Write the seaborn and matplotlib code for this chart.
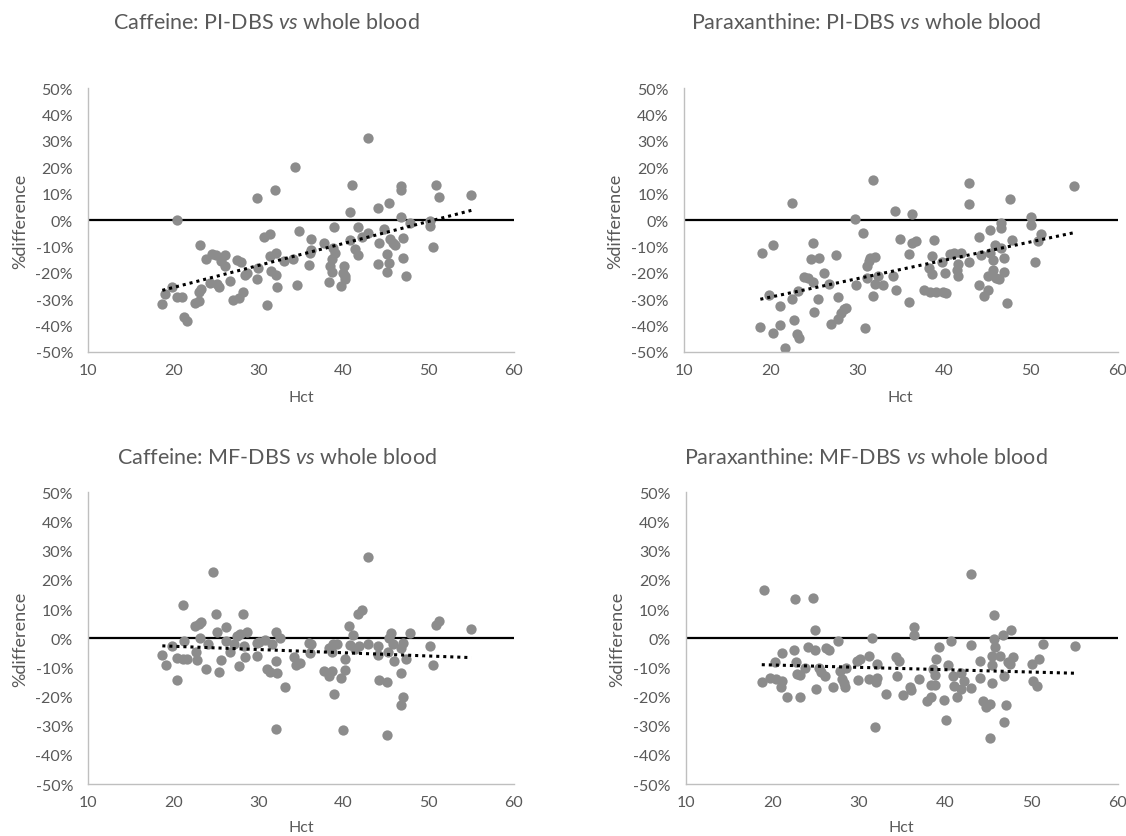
import numpy as np
import pandas as pd
import seaborn as sns
import matplotlib.pyplot as plt
import matplotlib.ticker

# Caffeine: PI-DBS vs whole blood
hct_caf_pi = [18.7, 19.0, 19.8, 20.4, 20.4, 21.0, 21.2, 21.6, 22.5, 23.0, 23.0, 23.3, 23.1, 23.8,
              24.5, 25.0, 24.3, 25.3, 25.1, 25.6, 26.1, 26.1, 26.6, 27.0, 27.7, 27.5, 27.9, 28.2,
              28.4, 28.6, 29.8, 29.8, 29.9, 30.7, 31.3, 31.0, 31.4, 31.5, 31.9, 32.1, 32.0, 32.2,
              33.0, 34.3, 34.5, 34.1, 34.8, 35.9, 36.2, 36.2, 36.0, 37.7, 38.3, 38.4, 38.6, 38.6,
              38.9, 39.0, 38.8, 39.7, 40.0, 39.9, 40.2, 40.2, 40.7, 41.0, 40.7, 41.3, 41.7, 41.7,
              42.1, 42.9, 42.9, 44.0, 44.0, 44.2, 44.7, 45.1, 45.1, 45.3, 45.3, 45.4, 45.8, 46.0,
              46.7, 46.7, 46.7, 47.0, 47.0, 47.3, 47.8, 50.1, 50.1, 50.5, 50.8, 51.2, 55.0]
diff_caf_pi = [-31.8, -28.2, -25.3, 0.0, -29.1, -29.1, -36.8, -38.4, -31.6, -30.8, -27.3, -26.1, -9.5, -14.9,
               -13.0, -13.3, -24.0, -25.3, -24.4, -15.6, -13.3, -17.5, -23.2, -30.4, -29.5, -15.2, -15.8, -27.2,
               -21.0, -20.0, 8.2, -22.3, -18.4, -6.3, -5.4, -32.3, -13.7, -19.4, 11.3, -12.4, -21.0, -25.3,
               -15.6, 20.1, -24.8, -14.9, -4.2, -17.1, -7.3, -11.4, -12.4, -8.9, -23.5, -17.5, -19.7, -14.7,
               -2.5, -12.4, -10.5, -25.1, -17.5, -20.0, -22.5, -21.3, 3.2, 13.2, -7.6, -11.1, -13.4, -2.7,
               -6.3, -5.1, 31.3, 4.6, -16.8, -8.6, -3.5, -13.0, -19.7, 6.3, -16.5, -7.1, -8.6, -9.6,
               12.9, 11.3, 1.1, -7.0, -14.6, -21.3, -1.3, -0.4, -2.3, -10.1, 13.2, 8.9, 9.4]

# Paraxanthine: PI-DBS vs whole blood
hct_para_pi = [18.8, 19.0, 19.8, 20.3, 20.3, 21.1, 21.1, 21.7, 22.4, 22.5, 22.7, 23.0, 23.3, 23.2,
               23.8, 24.3, 24.7, 24.9, 24.9, 25.0, 25.4, 25.6, 26.1, 26.7, 27.0, 27.5, 27.7, 27.8,
               28.1, 28.4, 28.7, 29.7, 29.8, 30.6, 30.9, 31.1, 31.3, 31.5, 31.8, 31.8, 32.0, 32.0,
               31.1, 32.4, 33.0, 34.1, 34.3, 34.5, 34.9, 35.9, 35.9, 36.3, 36.3, 36.8, 37.7, 38.2,
               38.6, 38.6, 38.4, 38.8, 39.1, 39.7, 39.9, 40.1, 40.2, 40.7, 41.1, 41.5, 41.6, 41.6,
               42.0, 42.9, 42.9, 42.9, 44.0, 44.0, 44.2, 44.6, 45.0, 45.3, 45.3, 45.6, 45.6, 45.9,
               46.0, 45.0, 46.3, 46.6, 46.6, 46.6, 46.9, 46.9, 47.2, 47.6, 47.8, 50.0, 50.0, 50.5,
               50.8, 51.2, 55.0]
diff_para_pi = [-40.5, -12.7, -28.6, -9.5, -43.0, -32.7, -40.0, -48.5, -30.1, 6.6, -38.0, -43.4, -44.7, -27.0,
                -21.6, -21.9, -14.7, -8.6, -23.4, -34.9, -30.1, -14.3, -20.3, -24.4, -39.6, -13.4, -37.5, -29.1,
                -35.2, -33.7, -33.3, 0.3, -24.7, -4.8, -41.1, -17.5, -15.6, -14.6, 15.2, -28.9, -24.4, -13.9,
                -22.2, -21.3, -24.8, -21.3, 3.4, -26.7, -7.1, -12.8, -31.1, 2.2, -8.9, -8.0, -26.7, -18.1,
                -13.7, -20.6, -27.3, -7.6, -27.3, -15.9, -27.3, -20.3, -27.8, -13.0, -12.4, -19.0, -16.8, -21.3,
                -12.7, 14.2, 5.9, -15.9, -6.5, -24.8, -13.3, -28.9, -26.7, -3.9, -12.4, -15.3, -19.1, -9.5,
                -21.9, -21.3, -22.3, -1.0, -2.9, -10.5, -14.3, -19.7, -31.6, 7.8, -7.6, 1.1, -2.0, -15.9,
                -8.0, -5.4, 12.9]

# Caffeine: MF-DBS vs whole blood
hct_caf_mf = [18.7, 19.1, 19.8, 20.4, 20.4, 21.1, 21.2, 21.1, 21.6, 22.5, 22.7, 22.8, 23.0, 23.3,
              23.1, 23.8, 24.1, 24.7, 25.0, 25.1, 25.4, 25.6, 26.2, 26.2, 26.7, 27.1, 27.5, 27.7,
              27.8, 28.2, 28.3, 28.4, 28.7, 29.8, 29.8, 30.0, 30.8, 31.0, 31.4, 31.6, 32.1, 32.1,
              32.0, 32.2, 32.5, 33.1, 34.2, 34.4, 34.9, 35.9, 36.2, 36.0, 37.7, 38.3, 38.3, 38.6,
              38.6, 38.8, 39.2, 38.9, 39.7, 39.9, 40.2, 40.2, 40.6, 40.7, 41.1, 41.3, 41.7, 42.1,
              41.8, 42.9, 42.9, 44.0, 44.0, 44.2, 45.1, 45.1, 45.3, 45.6, 45.8, 45.9, 45.2, 46.7,
              46.7, 47.0, 47.0, 46.7, 47.3, 47.8, 50.1, 50.5, 50.8, 51.2, 55.0]
diff_caf_mf = [-5.8, -9.3, -2.6, -14.3, -6.9, 11.4, -0.9, -7.2, -7.2, 4.2, -4.9, -7.5, 4.8, 5.4,
               0.2, -10.6, -2.1, 22.7, 8.2, 2.2, -11.5, -7.4, 3.7, -0.9, -4.9, -2.1, 0.8, -9.7,
               1.4, 8.2, -2.6, -6.6, 2.2, -1.5, -6.1, -1.3, -0.6, -10.6, -11.5, -2.1, 2.2, -7.8,
               -31.2, -12.0, 0.2, -16.6, -6.6, -9.1, -8.6, -1.5, -2.1, -5.1, -11.2, -12.9, -3.2, -4.9,
               -11.4, -2.1, -2.1, -19.0, -13.8, -31.4, -7.2, -10.9, 4.2, -2.3, 1.0, -3.8, 8.2, 9.6,
               -2.6, 27.7, -2.1, -2.6, -5.7, -14.3, -14.9, -33.1, 0.2, 1.9, -2.1, -7.8, -4.9, -12.0,
               -3.5, -1.7, -20.3, -23.0, -7.2, 1.7, -2.6, -9.1, 4.5, 5.9, 3.1]

# Paraxanthine: MF-DBS vs whole blood
hct_para_mf = [18.8, 19.1, 19.8, 20.3, 20.5, 21.1, 21.1, 21.0, 21.7, 22.5, 22.6, 22.8, 22.9, 23.2,
               23.2, 23.8, 24.2, 24.7, 25.0, 25.0, 25.1, 25.4, 25.6, 26.1, 26.2, 26.6, 27.1, 27.6,
               27.9, 28.1, 28.4, 28.3, 28.6, 29.8, 29.9, 30.2, 31.2, 31.5, 31.2, 31.9, 32.0, 32.1,
               32.1, 33.2, 34.3, 34.5, 34.7, 35.1, 35.9, 36.1, 36.4, 36.4, 37.0, 37.9, 38.4, 38.4,
               38.6, 38.8, 38.9, 39.0, 39.3, 39.9, 40.1, 40.3, 40.7, 40.9, 41.1, 41.4, 41.8, 41.9,
               42.2, 43.0, 43.0, 43.0, 44.0, 44.1, 44.4, 44.8, 45.2, 45.2, 45.4, 45.4, 45.4, 45.7,
               45.7, 45.8, 46.4, 46.7, 46.8, 46.8, 47.1, 47.3, 47.5, 47.7, 47.9, 50.1, 50.2, 50.6,
               50.9, 51.3, 55.1]
diff_para_mf = [-15.0, 16.6, -13.7, -8.3, -14.1, -5.1, -14.6, -16.6, -20.3, -4.0, 13.4, -8.3, -12.3, -20.0,
                -12.7, -10.1, -2.9, 13.9, 2.7, -4.1, -17.3, -10.1, -11.5, -13.1, -3.4, -4.0, -16.6, -1.1,
                -11.4, -14.1, -16.9, -15.2, -10.1, -7.8, -14.3, -7.2, -6.1, 0.0, -14.1, -30.3, -14.9, -8.9,
                -13.5, -19.2, -6.4, -12.9, -7.8, -19.4, -16.6, -17.8, 3.9, 1.0, -14.1, -21.5, -20.0, -16.1,
                -10.6, -12.7, -16.1, -7.0, -3.0, -21.1, -28.1, -9.1, -1.1, -12.9, -16.3, -20.0, -17.3, -11.8,
                -14.6, -2.4, 21.9, -17.1, -13.5, -7.8, -21.7, -23.5, -22.6, -34.1, -6.1, -9.1, -15.2, 7.9,
                -0.3, -2.9, -6.1, 1.0, -12.9, -28.7, -22.9, -8.1, -8.9, 2.9, -6.3, -8.9, -14.6, -16.3,
                -7.2, -2.1, -2.6]

titles = ['Caffeine: PI-DBS $\\mathit{vs}$ whole blood',
          'Paraxanthine: PI-DBS $\\mathit{vs}$ whole blood',
          'Caffeine: MF-DBS $\\mathit{vs}$ whole blood',
          'Paraxanthine: MF-DBS $\\mathit{vs}$ whole blood']

sns.set_style('white')
plt.rcParams['font.family'] = ['Lato', 'DejaVu Sans']
plt.rcParams['mathtext.fontset'] = 'custom'
plt.rcParams['mathtext.rm'] = 'Lato'
plt.rcParams['mathtext.it'] = 'Lato:italic'
plt.rcParams['axes.unicode_minus'] = False

text_color = '#595959'
dot_color = '#8c8c8c'

fig = plt.figure(figsize=(11.26, 8.37), dpi=100)

# axes boxes [left, bottom, width, height], title anchor (x, y) and Hct label offset
panels = [
    (hct_caf_pi, diff_caf_pi, [0.0784, 0.5786, 0.378, 0.3147], (0.2362, 0.973), -0.145),
    (hct_para_pi, diff_para_pi, [0.6075, 0.5786, 0.385, 0.3147], (0.7691, 0.973), -0.145),
    (hct_caf_mf, diff_caf_mf, [0.0784, 0.0621, 0.378, 0.3485], (0.2460, 0.453), -0.123),
    (hct_para_mf, diff_para_mf, [0.6090, 0.0621, 0.3837, 0.3485], (0.7691, 0.453), -0.123),
]

for (hct, diff, box, tpos, xlab_y), title in zip(panels, titles):
    ax = fig.add_axes(box)
    df = pd.DataFrame({'Hct': hct, 'diff': diff})
    ax.axhline(0, color='black', lw=1.6, zorder=1)
    sns.regplot(data=df, x='Hct', y='diff', ax=ax, ci=None,
                scatter_kws={'s': 55, 'color': dot_color, 'alpha': 1, 'linewidths': 0, 'zorder': 2},
                line_kws={'color': 'black', 'lw': 2.2, 'linestyle': (0, (1, 1.3)), 'zorder': 3})
    ax.set_xlim(10, 60)
    ax.set_ylim(-50, 50)
    ax.set_xticks([10, 20, 30, 40, 50, 60])
    ax.set_yticks(np.arange(-50, 51, 10))
    ax.yaxis.set_major_formatter(matplotlib.ticker.PercentFormatter(decimals=0))
    ax.tick_params(length=0, labelsize=11.5, labelcolor=text_color, pad=11)
    ax.tick_params(axis='x', pad=8)
    for side in ['top', 'right']:
        ax.spines[side].set_visible(False)
    for side in ['left', 'bottom']:
        ax.spines[side].set_color('#bfbfbf')
        ax.spines[side].set_linewidth(1.0)
    ax.set_xlabel('Hct', fontsize=11.5, color=text_color)
    ax.set_ylabel('%difference', fontsize=13, color=text_color)
    ax.yaxis.set_label_coords(-0.14, 0.5)
    ax.xaxis.set_label_coords(0.5, xlab_y)
    fig.text(tpos[0], tpos[1], title, fontsize=15.5, color=text_color, ha='center', va='center')

fig.savefig('out.png', dpi=100)
